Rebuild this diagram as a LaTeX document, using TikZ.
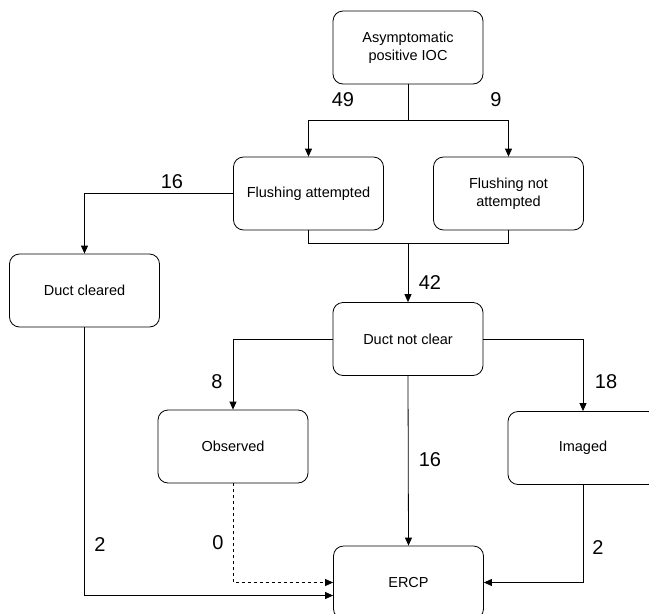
\documentclass[tikz,border=0pt]{standalone}
\usepackage{fontspec}
\setmainfont{Liberation Sans}
\usetikzlibrary{arrows.meta}
\begin{document}
\begin{tikzpicture}[x=1pt,y=-1pt,
  box/.style={draw, rounded corners=10pt, minimum width=150pt, minimum height=73pt,
    align=center, inner sep=2pt, font=\fontsize{14.5}{18}\selectfont, line width=0.8pt},
  arr/.style={-{Triangle[length=8pt,width=7pt]}, line width=0.8pt},
  ln/.style={line width=0.8pt},
  num/.style={font=\fontsize{20}{22}\selectfont, inner sep=0pt}]
\useasboundingbox (0,0) rectangle (649,614);
\clip (0,0) rectangle (649,614);
\node[box] (top) at (408,47.5) {Asymptomatic\\positive IOC};
\node[box] (fa) at (308.5,193.5) {Flushing attempted};
\node[box] (fna) at (508.5,193.5) {Flushing not\\attempted};
\node[box] (dc) at (84.5,290.5) {Duct cleared};
\node[box] (dnc) at (408,339) {Duct not clear};
\node[box] (obs) at (233,446.5) {Observed};
\node[box] (img) at (583,448) {Imaged};
\node[box] (ercp) at (408.5,582.5) {ERCP};
\coordinate (s) at (408,120);
\coordinate (j) at (408,243);
\draw[ln] (top.south) -- (s);
\draw[arr] (s) -| (fa.north);
\draw[arr] (s) -| (fna.north);
\draw[ln] (fa.south) |- (j);
\draw[ln] (fna.south) |- (j);
\draw[arr] (j) -- (dnc.north);
\draw[arr] (fa.west) -| (dc.north);
\draw[arr] (dnc.west) -| (obs.north);
\draw[arr] (dnc.east) -| (img.north);
\draw[arr] (dnc.south) -- (ercp.north);
\draw[arr, dashed] (obs.south) |- (ercp.west);
\draw[arr] (dc.south) |- ([yshift=-13pt]ercp.west);
\draw[arr] (img.south) |- (ercp.east);
\node[num] (n49) at (343,100) {49};
\node[num] (n9) at (496,100) {9};
\node[num] (n16a) at (172,182) {16};
\node[num] (n42) at (430,283) {42};
\node[num] (n8) at (217,382) {8};
\node[num] (n18) at (606,382) {18};
\node[num] (n16b) at (430,460) {16};
\node[num] (n2a) at (100,545) {2};
\node[num] (n0) at (218,543) {0};
\node[num] (n2b) at (598,548) {2};
\end{tikzpicture}
\end{document}
